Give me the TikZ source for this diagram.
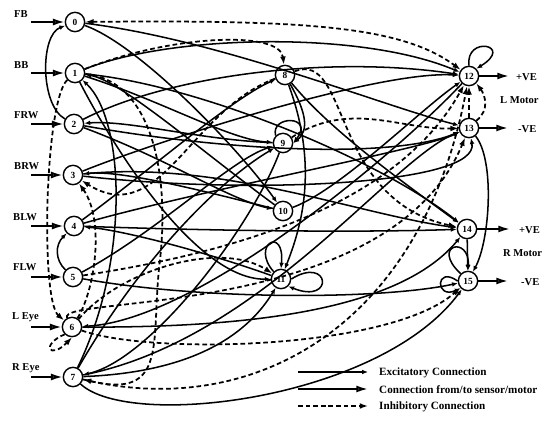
\documentclass[tikz,border=0pt]{standalone}
\usepackage{fontspec}
\setmainfont{Liberation Serif}
\usetikzlibrary{arrows.meta}
\tikzset{
  neuron/.style={circle,draw,line width=1.2pt,fill=white,minimum size=0.58cm,inner sep=0pt,font=\fontsize{8}{9}\selectfont\bfseries},
  inlabel/.style={anchor=base west,inner sep=0pt,font=\fontsize{9}{10}\selectfont\bfseries},
  outlabel/.style={anchor=west,inner sep=0pt,font=\fontsize{9}{10}\selectfont\bfseries},
  keylabel/.style={anchor=west,inner sep=0pt,font=\fontsize{9.5}{11}\selectfont\bfseries},
  exc/.style={line width=1.3pt,-{Latex[length=5pt,width=4pt]}},
  sens/.style={line width=1.6pt,-{Latex[length=10pt,width=6pt,fill=black!55]}},
  inh/.style={line width=1.5pt,dash pattern=on 4pt off 2.5pt,-{Latex[length=7pt,width=5pt]}},
}
\begin{document}
\begin{tikzpicture}[x=0.03cm,y=-0.03cm]
\useasboundingbox (0,0) rectangle (549,428);
% neurons
\node[neuron] (n0) at (75,22) {0};
\node[neuron] (n1) at (75,73) {1};
\node[neuron] (n2) at (74,124) {2};
\node[neuron] (n3) at (73,175) {3};
\node[neuron] (n4) at (74,226) {4};
\node[neuron] (n5) at (73,277) {5};
\node[neuron] (n6) at (72,327) {6};
\node[neuron] (n7) at (73,377) {7};
\node[neuron] (n8) at (285,75) {8};
\node[neuron] (n9) at (283,143) {9};
\node[neuron] (n10) at (283,211) {10};
\node[neuron] (n11) at (281,279) {11};
\node[neuron] (n12) at (469,76) {12};
\node[neuron] (n13) at (469,128) {13};
\node[neuron] (n14) at (467,229) {14};
\node[neuron] (n15) at (468,281) {15};
% sensors
\node[inlabel] (lfb) at (14,18) {FB};
\node[inlabel] (lbb) at (14,69) {BB};
\node[inlabel] (lfrw) at (14,119) {FRW};
\node[inlabel] (lbrw) at (14,170) {BRW};
\node[inlabel] (lblw) at (13,221) {BLW};
\node[inlabel] (lflw) at (13,271) {FLW};
\node[inlabel] (lleye) at (12,320) {L Eye};
\node[inlabel] (lreye) at (12,371) {R Eye};
\foreach \i/\y in {0/22,1/73,2/124,3/175,4/226,5/277,6/327,7/377}{
  \coordinate (s\i) at (31,\y);
  \draw[sens] (s\i) -- (n\i);
}
% motors
\coordinate (o12) at (509,76);
\coordinate (o13) at (508,128);
\coordinate (o14) at (510,229);
\coordinate (o15) at (508,281);
\foreach \i in {12,13,14,15}{ \draw[sens] (n\i) -- (o\i); }
\node[outlabel] (ve12) at (516,77) {+VE};
\node[outlabel] (lmot) at (500,100) {L Motor};
\node[outlabel] (ve13) at (518,129) {-VE};
\node[outlabel] (ve14) at (519,230) {+VE};
\node[outlabel] (rmot) at (503,253) {R Motor};
\node[outlabel] (ve15) at (521,282) {-VE};
% excitatory
\draw[exc] (n0) .. controls (220,40) and (380,105) .. (n13);
\draw[exc] (n0) .. controls (140,45) and (240,150) .. (n10);
\draw[exc] (n2) .. controls (40,105) and (40,35) .. (n0);
\draw[exc] (n1) .. controls (170,35) and (360,30) .. (n12);
\draw[exc] (n1) .. controls (200,85) and (380,160) .. (n14);
\draw[exc] (n1) .. controls (160,100) and (230,140) .. (n9);
\draw[exc] (n1) .. controls (120,160) and (200,280) .. (n11);
\draw[exc] (n2) .. controls (170,75) and (330,55) .. (n12);
\draw[exc] (n2) .. controls (220,150) and (390,160) .. (n13);
\draw[exc] (n2) .. controls (170,160) and (230,200) .. (n10);
\draw[exc] (n3) .. controls (160,140) and (380,70) .. (n12);
\draw[exc] (n3) .. controls (220,160) and (360,215) .. (n14);
\draw[exc] (n3) .. controls (250,195) and (480,185) .. (n13);
\draw[exc] (n4) .. controls (150,170) and (230,100) .. (n8);
\draw[exc] (n4) .. controls (250,232) and (380,232) .. (n14);
\draw[exc] (n4) .. controls (200,190) and (420,150) .. (n13);
\draw[exc] (n5) .. controls (55,260) and (55,245) .. (n4);
\draw[exc] (n5) .. controls (160,230) and (230,160) .. (n9);
\draw[exc] (n5) .. controls (200,300) and (380,300) .. (n15);
\draw[exc] (n6) .. controls (250,328) and (400,310) .. (n14);
\draw[exc] (n7) .. controls (130,260) and (125,120) .. (n1);
\draw[exc] (n7) .. controls (140,260) and (220,180) .. (n9);
\draw[exc] (n7) .. controls (260,340) and (390,160) .. (n13);
\draw[exc] (n7) .. controls (130,430) and (380,400) .. (n15);
\draw[exc] (n7) .. controls (200,372) and (250,330) .. (n11);
\draw[exc] (n8) .. controls (305,110) and (310,130) .. (n9.east);
\draw[exc] (n8) .. controls (330,130) and (400,180) .. (n14);
\draw[exc] (n8) .. controls (320,170) and (300,230) .. (n11);
\draw[exc] (n9) .. controls (200,140) and (130,120) .. (n2);
\draw[exc] (n9) .. controls (250,230) and (150,360) .. (n7);
\draw[exc] (n10) .. controls (200,190) and (120,170) .. (n3);
\draw[exc] (n10) .. controls (200,150) and (120,80) .. (n1);
\draw[exc] (n10) .. controls (340,190) and (420,110) .. (n12);
\draw[exc] (n11) .. controls (200,250) and (120,230) .. (n4);
\draw[exc] (n12) .. controls (400,150) and (200,320) .. (n6);
\draw[exc] (n13) .. controls (495,160) and (490,240) .. (n15);
\draw[exc] (n14) -- (n15);
% self loops
\draw[exc] (n9.north west) .. controls (270,115) and (315,115) .. (n9.east);
\draw[exc] (n11.north west) .. controls (250,245) and (285,225) .. (n11.north);
\draw[exc] (n11.east) .. controls (330,255) and (335,305) .. (n11.south east);
\draw[exc] (n12.north) .. controls (465,35) and (515,45) .. (n12.north east);
\draw[exc] (n15.west) .. controls (435,265) and (435,300) .. (n15.south west);
\draw[exc] (n15.north west) .. controls (430,245) and (470,235) .. (n15.north);
% inhibitory
\draw[inh,{Latex[length=7pt,width=5pt]}-{Latex[length=7pt,width=5pt]}] (n0) .. controls (300,20) and (400,25) .. (n12);
\draw[inh] (n1) .. controls (170,35) and (280,30) .. (n8);
\draw[inh] (n8) .. controls (350,50) and (330,200) .. (n14);
\draw[inh] (n1) .. controls (150,80) and (170,170) .. (160,260) .. controls (150,340) and (170,400) .. (n7);
\draw[inh] (n8) .. controls (190,110) and (160,230) .. (n3);
\draw[inh] (n1) .. controls (45,100) and (40,300) .. (n6);
\draw[inh] (n6.south west) .. controls (40,345) and (50,360) .. (n6.south);
\draw[inh] (n6) .. controls (95,290) and (105,220) .. (n3);
\draw[inh] (n6) .. controls (120,270) and (220,240) .. (n11);
\draw[inh] (n6) .. controls (150,355) and (390,350) .. (n15);
\draw[inh] (n6) .. controls (55,295) and (390,320) .. (n13);
\draw[inh] (n7) .. controls (250,420) and (420,330) .. (n12);
\draw[inh] (n5) .. controls (250,250) and (400,200) .. (n12);
\draw[inh] (n9) .. controls (350,100) and (400,130) .. (n13);
\draw[inh] (n13) -- (n12);
\draw[inh] (n13.north east) .. controls (490,110) and (485,95) .. (n12.south east);
% key
\coordinate (ka1) at (298,372); \coordinate (kb1) at (368,372);
\coordinate (ka2) at (298,389); \coordinate (kb2) at (368,389);
\coordinate (ka3) at (298,406); \coordinate (kb3) at (368,406);
\draw[exc] (ka1) -- (kb1);
\draw[sens] (ka2) -- (kb2);
\draw[inh] (ka3) -- (kb3);
\node[keylabel] (key1) at (379,373) {Excitatory Connection};
\node[keylabel] (key2) at (379,390) {Connection from/to sensor/motor};
\node[keylabel] (key3) at (379,407) {Inhibitory Connection};
\end{tikzpicture}
\end{document}
